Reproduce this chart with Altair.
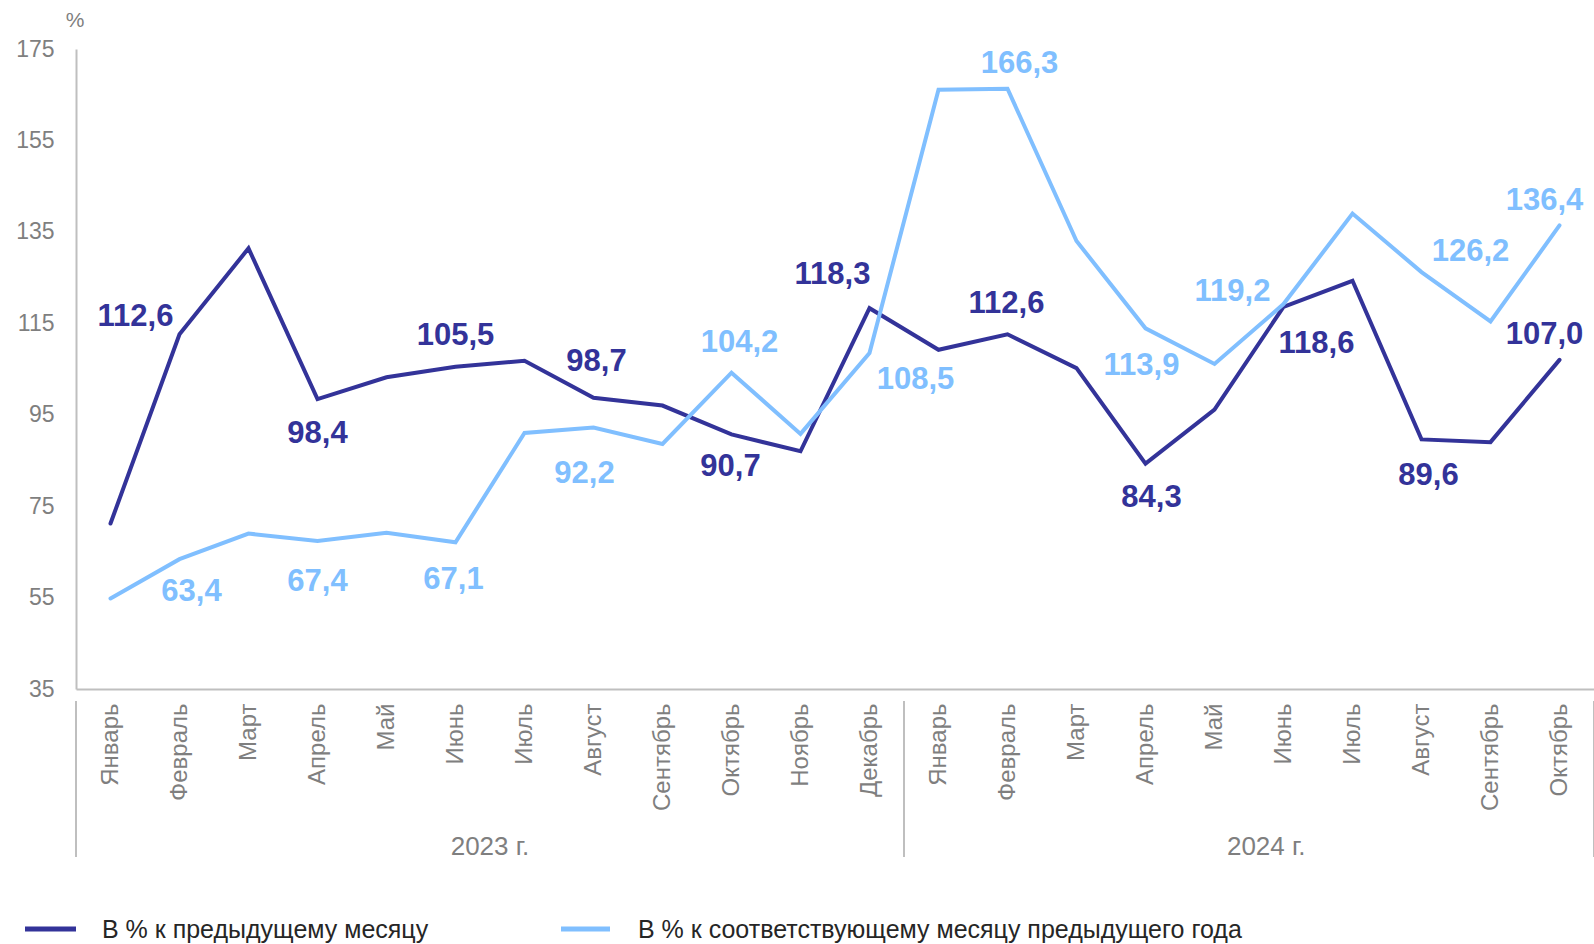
import altair as alt
import pandas as pd

months = ["Январь", "Февраль", "Март", "Апрель", "Май", "Июнь", "Июль", "Август",
          "Сентябрь", "Октябрь", "Ноябрь", "Декабрь",
          "Январь", "Февраль", "Март", "Апрель", "Май", "Июнь", "Июль", "Август",
          "Сентябрь", "Октябрь"]
years = ["2023 г."] * 12 + ["2024 г."] * 10

prev_month = [71.2, 112.6, 131.4, 98.4, 103.2, 105.5, 106.8, 98.7, 97.0, 90.7, 87.0, 118.3,
              109.2, 112.6, 105.2, 84.3, 96.1, 118.6, 124.3, 89.6, 89.0, 107.0]
prev_year = [54.8, 63.4, 69.0, 67.4, 69.2, 67.1, 91.0, 92.2, 88.6, 104.2, 90.8, 108.5,
             166.1, 166.3, 133.0, 113.9, 106.1, 119.2, 139.0, 126.2, 115.4, 136.4]

series_names = ["В % к предыдущему месяцу", "В % к соответствующему месяцу предыдущего года"]
labeled = [False, True] * 11

# label placement (style): pixel offsets from the point
OFF_DARK = {1: (-44, -17), 3: (0, 35), 5: (0, -31), 7: (3, -36), 9: (-1, 33), 11: (-37, -33),
            13: (-1, -30), 15: (6, 34), 17: (33, 37), 19: (7, 37), 21: (-15, -25)}
OFF_LIGHT = {1: (12, 33), 3: (0, 41), 5: (-2, 38), 7: (-9, 46), 9: (8, -30), 11: (46, 27),
             13: (12, -25), 15: (-4, 38), 17: (-51, -12), 19: (49, -20), 21: (-15, -24)}

DARK = "#333399"
LIGHT = "#80BFFF"
GRAY = "#7F7F7F"
AXIS = "#BFBFBF"
FONT = "Liberation Sans"

W, H = 1518, 640

rows = []
for i in range(len(months)):
    for s, vals in ((series_names[0], prev_month), (series_names[1], prev_year)):
        rows.append({"idx": i, "month": months[i], "year": years[i], "series": s,
                     "value": vals[i], "label": f"{vals[i]:.1f}".replace(".", ","),
                     "show": labeled[i]})
df = pd.DataFrame(rows)

xscale = alt.Scale(domain=[-0.5, len(months) - 0.5], nice=False, zero=False)
yscale = alt.Scale(domain=[35, 175], nice=False, zero=False)
cscale = alt.Scale(domain=series_names, range=[DARK, LIGHT])

month_expr = "[" + ",".join(f"'{m}'" for m in months) + "][datum.value]"

base = alt.Chart(df)

lines = base.mark_line(strokeWidth=4, strokeJoin="miter", strokeCap="round").encode(
    x=alt.X("idx:Q", scale=xscale,
            axis=alt.Axis(values=list(range(len(months))), labelExpr=month_expr, labelAngle=270,
                          labelFont=FONT, labelFontSize=24, labelColor=GRAY, labelPadding=14,
                          ticks=False, grid=False, domainColor=AXIS, domainWidth=2, title=None)),
    y=alt.Y("value:Q", scale=yscale,
            axis=alt.Axis(values=list(range(35, 176, 20)), labelFont=FONT, labelFontSize=23,
                          labelColor=GRAY, labelPadding=22, ticks=False, grid=False,
                          domainColor=AXIS, domainWidth=2, title=None)),
    color=alt.Color("series:N", scale=cscale, legend=None),
    detail="series:N",
)

label_layers = []
for s, offs in ((series_names[0], OFF_DARK), (series_names[1], OFF_LIGHT)):
    for i, (dx, dy) in offs.items():
        label_layers.append(
            base.transform_filter(
                f"datum.show && datum.idx == {i} && datum.series == '{s}'"
            ).mark_text(font=FONT, fontSize=31, fontWeight="bold", align="center",
                        baseline="middle", dx=dx, dy=dy).encode(
                x=alt.X("idx:Q", scale=xscale),
                y=alt.Y("value:Q", scale=yscale),
                text="label:N",
                color=alt.Color("series:N", scale=cscale, legend=None),
            )
        )

# year group labels and separators
year_df = pd.DataFrame({"year": ["2023 г.", "2024 г."], "mid": [5.5, 16.75]})
year_text = alt.Chart(year_df).mark_text(font=FONT, fontSize=26, color=GRAY, baseline="middle").encode(
    x=alt.X("mid:Q", scale=xscale), y=alt.value(H + 158), text="year:N")

sep_df = pd.DataFrame({"pos": [-0.5, 11.5, len(months) - 0.5]})
seps = alt.Chart(sep_df).mark_rule(color=AXIS, strokeWidth=2).encode(
    x=alt.X("pos:Q", scale=xscale), y=alt.value(H + 12), y2=alt.value(H + 168))

pct = alt.Chart(pd.DataFrame({"t": ["%"]})).mark_text(
    font=FONT, fontSize=21, color=GRAY, align="center", baseline="middle").encode(
    x=alt.value(-1), y=alt.value(-28), text="t:N")

# legend
leg_df = pd.DataFrame({"series": series_names, "x1": [-51, 485], "x2": [0, 534], "tx": [26, 562]})
leg_lines = alt.Chart(leg_df).mark_rule(strokeWidth=5).encode(
    x=alt.X("x1:Q", scale=None, axis=None), x2="x2:Q", y=alt.value(H + 240),
    color=alt.Color("series:N", scale=cscale, legend=None))
leg_text = alt.Chart(leg_df).mark_text(
    font=FONT, fontSize=25, color="#262626", align="left", baseline="middle").encode(
    x=alt.X("tx:Q", scale=None, axis=None), y=alt.value(H + 241), text="series:N")

chart = alt.layer(lines, *label_layers, year_text, seps, pct, leg_lines, leg_text).properties(
    width=W, height=H,
    background="white",
    autosize=alt.AutoSizeParams(type="none"),
    padding={"left": 76, "top": 49, "right": 0, "bottom": 944 - 49 - H},
).configure_view(strokeWidth=0, stroke="transparent")

chart.save("out.html", embed_options={"renderer": "svg", "actions": False})
